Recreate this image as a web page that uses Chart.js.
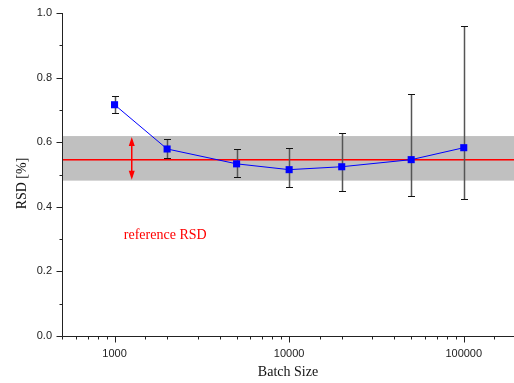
<!DOCTYPE html>
<html>
<head>
<meta charset="utf-8">
<script src="https://cdn.jsdelivr.net/npm/chart.js@4/dist/chart.umd.min.js"></script>
<style>
  html, body { margin: 0; padding: 0; background: #fff; overflow: hidden; }
  #wrap { width: 514px; height: 383px; position: relative; }
  canvas { display: block; }
</style>
</head>
<body>
<div id="wrap"><canvas id="rsdChart"></canvas></div>
<script>
// data
const batchSizes = [1000, 2000, 5000, 10000, 20000, 50000, 100000];
const rsdValues  = [0.716, 0.579, 0.533, 0.515, 0.524, 0.546, 0.583];
const errLow     = [0.691, 0.550, 0.491, 0.461, 0.450, 0.433, 0.424];
const errHigh    = [0.744, 0.611, 0.580, 0.583, 0.629, 0.749, 0.960];

// reference band
const refLow = 0.481;
const refHigh = 0.619;
const refMean = 0.547;
const refArrowX = 1250;
const refLabel = "reference RSD";
const refLabelPos = [1000 * 1.13, 0.312];

const xMajorTicks = [1000, 10000, 100000];
const yMajorTicks = [0, 0.2, 0.4, 0.6, 0.8, 1.0];

const axisColor = "#222";

function isMajorX(v) {
  return xMajorTicks.includes(v);
}
function isMajorY(v) {
  return yMajorTicks.some(t => Math.abs(t - v) < 1e-6);
}

const decorPlugin = {
  id: "decor",
  beforeDatasetsDraw(chart) {
    const ctx = chart.ctx;
    const xs = chart.scales.x;
    const ys = chart.scales.y;
    const area = chart.chartArea;

    ctx.save();
    // gray band
    const yTop = ys.getPixelForValue(refHigh);
    const yBot = ys.getPixelForValue(refLow);
    ctx.fillStyle = "#c0c0c0";
    ctx.fillRect(area.left, yTop, area.right - area.left, yBot - yTop);

    // mean line
    const yMean = Math.round(ys.getPixelForValue(refMean));
    ctx.fillStyle = "#ff0000";
    ctx.fillRect(area.left, yMean, area.right - area.left, 1);
    ctx.fillStyle = "rgba(255,0,0,0.55)";
    ctx.fillRect(area.left, yMean + 1, area.right - area.left, 1);

    // double arrow
    ctx.fillStyle = "#ff0000";
    const ax = Math.round(xs.getPixelForValue(refArrowX));
    ctx.fillRect(ax, yTop + 4, 1, yBot - yTop - 8);
    ctx.fillStyle = "rgba(255,0,0,0.5)";
    ctx.fillRect(ax + 1, yTop + 4, 1, yBot - yTop - 8);
    ctx.fillStyle = "#ff0000";
    const cx = ax + 0.75;
    ctx.beginPath();
    ctx.moveTo(cx, yTop + 1);
    ctx.lineTo(cx - 3, yTop + 10);
    ctx.lineTo(cx + 3, yTop + 10);
    ctx.closePath();
    ctx.fill();
    ctx.beginPath();
    ctx.moveTo(cx, yBot - 1);
    ctx.lineTo(cx - 3, yBot - 10);
    ctx.lineTo(cx + 3, yBot - 10);
    ctx.closePath();
    ctx.fill();

    // error bars
    batchSizes.forEach((b, i) => {
      const px = Math.round(xs.getPixelForValue(b)) + 0.5;
      const pHi = Math.round(ys.getPixelForValue(errHigh[i])) + 0.5;
      const pLo = Math.round(ys.getPixelForValue(errLow[i])) + 0.5;
      ctx.strokeStyle = "#555";
      ctx.lineWidth = 1.5;
      ctx.beginPath();
      ctx.moveTo(px, pHi);
      ctx.lineTo(px, pLo);
      ctx.stroke();
      ctx.strokeStyle = "#111";
      ctx.lineWidth = 1.2;
      ctx.beginPath();
      ctx.moveTo(px - 3.5, pHi);
      ctx.lineTo(px + 3.5, pHi);
      ctx.moveTo(px - 3.5, pLo);
      ctx.lineTo(px + 3.5, pLo);
      ctx.stroke();
    });

    // label
    ctx.fillStyle = "#ff0000";
    ctx.font = '14px "Liberation Serif", "Times New Roman", serif';
    ctx.textBaseline = "middle";
    ctx.textAlign = "left";
    ctx.fillText(refLabel, xs.getPixelForValue(refLabelPos[0]), ys.getPixelForValue(refLabelPos[1]));
    ctx.restore();
  },
  afterDraw(chart) {
    const ctx = chart.ctx;
    const xs = chart.scales.x;
    const ys = chart.scales.y;
    const area = chart.chartArea;
    ctx.save();
    ctx.strokeStyle = axisColor;
    ctx.lineWidth = 1;
    ctx.beginPath();
    // axis lines
    ctx.moveTo(area.left + 0.5, area.top);
    ctx.lineTo(area.left + 0.5, area.bottom + 0.5);
    ctx.lineTo(area.right, area.bottom + 0.5);
    // x ticks
    xs.ticks.forEach(t => {
      const px = Math.round(xs.getPixelForValue(t.value)) + 0.5;
      if (px < area.left || px > area.right) return;
      const len = isMajorX(t.value) ? 6 : 3;
      ctx.moveTo(px, area.bottom + 0.5);
      ctx.lineTo(px, area.bottom + 0.5 + len);
    });
    // y ticks
    ys.ticks.forEach(t => {
      const py = Math.round(ys.getPixelForValue(t.value)) + 0.5;
      const len = isMajorY(t.value) ? 6 : 3;
      ctx.moveTo(area.left + 0.5, py);
      ctx.lineTo(area.left + 0.5 - len, py);
    });
    ctx.stroke();

    // y title
    ctx.fillStyle = "#111";
    ctx.font = '14px "Liberation Serif", "Times New Roman", serif';
    ctx.textAlign = "center";
    ctx.textBaseline = "middle";
    ctx.translate(22, 183.5);
    ctx.rotate(-Math.PI / 2);
    ctx.fillText("RSD [%]", 0, 0);
    ctx.restore();
  }
};

new Chart(document.getElementById("rsdChart"), {
  type: "line",
  data: {
    datasets: [{
      data: batchSizes.map((b, i) => ({ x: b, y: rsdValues[i] })),
      borderColor: "#0000ff",
      borderWidth: 1,
      pointStyle: "rect",
      pointRadius: 5,
      pointBorderWidth: 0,
      pointBackgroundColor: "#0000ff",
      tension: 0,
      clip: false
    }]
  },
  options: {
    responsive: true,
    maintainAspectRatio: false,
    animation: false,
    layout: { autoPadding: false, padding: { top: 13, right: 0, left: 0, bottom: 0 } },
    plugins: {
      legend: { display: false },
      tooltip: { enabled: false }
    },
    scales: {
      x: {
        type: "logarithmic",
        min: 500,
        max: 194000,
        afterFit: s => { s.height = 47; s.paddingLeft = 0; s.paddingRight = 0; },
        grid: { display: false, drawTicks: true, tickLength: 11 },
        border: { display: false },
        ticks: {
          autoSkip: false,
          maxRotation: 0,
          padding: 0,
          color: "#222",
          font: { family: '"Liberation Sans", Arial, sans-serif', size: 11 },
          callback: v => isMajorX(v) ? String(v) : ""
        },
        title: {
          display: true,
          text: "Batch Size",
          color: "#111",
          font: { family: '"Liberation Serif", "Times New Roman", serif', size: 14 },
          padding: { top: 0, bottom: 2 }
        }
      },
      y: {
        min: 0,
        max: 1,
        afterFit: s => { s.width = 62; s.paddingTop = 0; },
        grid: { display: false, drawTicks: true, tickLength: 10 },
        border: { display: false },
        ticks: {
          stepSize: 0.1,
          padding: 0,
          color: "#222",
          font: { family: '"Liberation Sans", Arial, sans-serif', size: 11 },
          callback: v => isMajorY(v) ? v.toFixed(1) : ""
        }
      }
    }
  },
  plugins: [decorPlugin]
});
</script>
</body>
</html>
